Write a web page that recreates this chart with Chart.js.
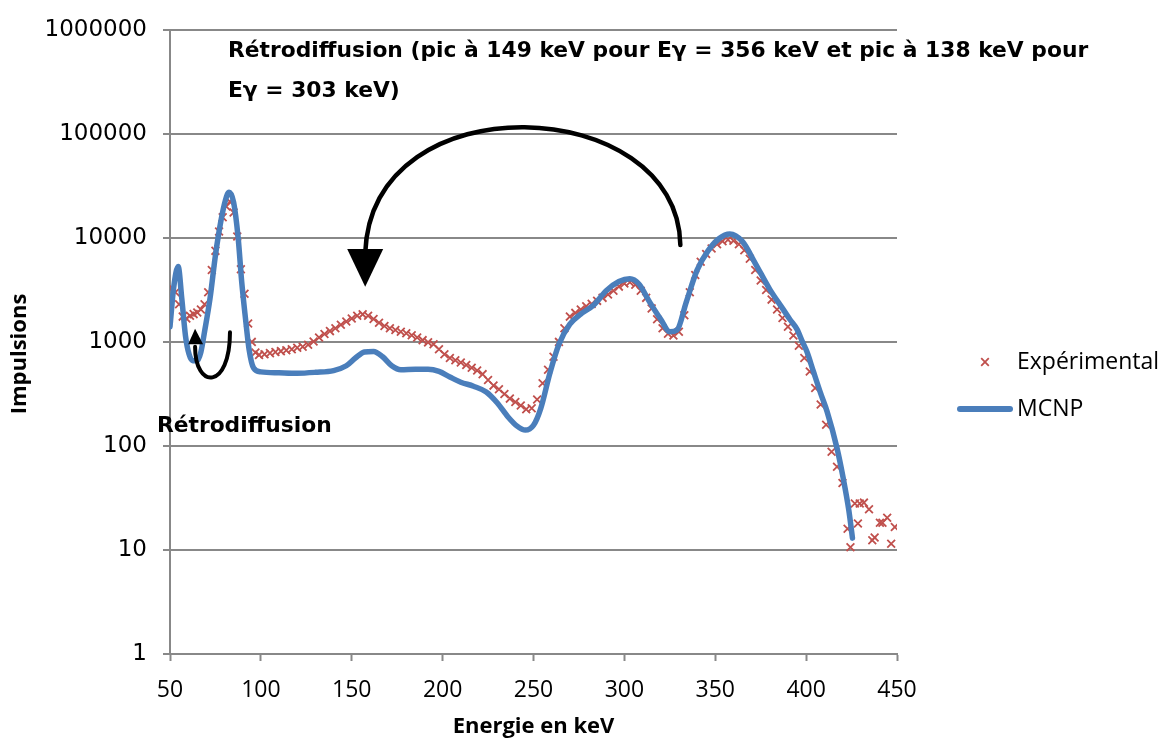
<!DOCTYPE html>
<html lang="fr">
<head>
<meta charset="utf-8">
<title>Spectre gamma : expérience et MCNP</title>
<script src="https://cdn.jsdelivr.net/npm/chart.js@4.4.1/dist/chart.umd.min.js"></script>
<style>
  html, body { margin: 0; padding: 0; background: #fff; }
  #wrap { position: relative; width: 1163px; height: 742px; }
</style>
</head>
<body>
<div id="wrap"><canvas id="spectre"></canvas></div>
<script>
// Mesure (keV, impulsions)
const EXP_E = [
  51, 53, 55, 57, 59, 61, 63, 65, 67, 69, 71, 73, 75, 77, 79, 81, 83, 85, 87, 89, 91, 93, 95, 97, 99,
  102, 105, 108, 111, 114, 117, 120, 123, 126, 129, 132, 135, 138, 141, 144, 147, 150, 153, 156, 159,
  162, 165, 168, 171, 174, 177, 180, 183, 186, 189, 192, 195, 198, 201, 204, 207, 210, 213, 216, 219,
  222, 225, 228, 231, 234, 237, 240, 243, 246, 249, 252, 255, 258, 261, 264, 267, 270, 273, 276, 279,
  282, 285, 288, 291, 294, 297, 300, 303, 306, 309, 312, 315, 318, 321, 324, 327, 330, 333, 336, 339,
  342, 345, 348, 351, 354, 357, 360, 363, 366, 369, 372, 375, 378, 381, 384, 387, 390, 393, 396, 399,
  402, 405, 408, 411, 414, 417, 420, 422.8, 424.4,
  426.8, 428.5, 429.5, 431.8, 434.6, 436.4, 437.7, 440.6, 442, 444.6, 446.8, 448.8
];
const EXP_N = [
  3300, 3000, 2300, 1750, 1680, 1780, 1850, 1920, 2050, 2300, 3000, 4900, 7500, 11500, 15800, 20000, 22300, 17500, 10300, 5000, 2900, 1500, 1000, 790, 750,
  760, 780, 800, 815, 830, 850, 880, 900, 940, 1010, 1100, 1190, 1270, 1350, 1460, 1570, 1680, 1780, 1840, 1780,
  1660, 1530, 1420, 1350, 1300, 1250, 1210, 1160, 1100, 1040, 990, 950, 850, 760, 700, 665, 635, 600, 565, 530,
  490, 430, 380, 350, 315, 285, 265, 245, 225, 230, 280, 400, 540, 720, 1000, 1350, 1750, 1900, 2050, 2200,
  2320, 2480, 2650, 2850, 3100, 3400, 3650, 3750, 3550, 3100, 2650, 2100, 1650, 1350, 1200, 1150, 1250, 1800, 3000, 4400,
  5900, 7000, 7900, 8700, 9300, 9600, 9400, 8700, 7600, 6300, 4900, 3900, 3150, 2550, 2050, 1700, 1400, 1150, 920, 700,
  520, 360, 250, 160, 88, 63, 44, 16, 10.6,
  28, 18, 28, 28.5, 24.6, 12.4, 13.2, 18.3, 18.3, 20.4, 11.5, 16.6
];

// Simulation MCNP
const MCNP_E = [
  50, 52, 54.5, 56.5, 58.5, 60.5, 62.5, 65, 67, 69, 72, 75, 78, 80.5, 82.5, 85, 87.5, 89.5, 91.5, 93.5, 96,
  100, 110, 120, 130, 140, 147, 152, 157, 162, 167, 172, 177, 185, 192, 198, 204, 210, 217, 224, 230, 236,
  241, 245.5, 250, 254, 259, 264, 270, 276, 283, 290, 297, 303, 308, 314, 320, 325, 329, 334, 340, 346,
  352, 358, 365, 372, 380, 387, 391, 395, 398, 400.5, 404, 408, 411.5, 417, 420.5, 423.5, 425.5
];
const MCNP_N = [
  1400, 3300, 5300, 2600, 1150, 760, 660, 660, 800, 1250, 2600, 6800, 14500, 23000, 27500, 22000, 10000, 3700, 1700, 850, 560,
  515, 505, 500, 510, 530, 590, 700, 800, 810, 720, 590, 540, 545, 545, 520, 460, 410, 375, 330, 260, 190,
  155, 142, 158, 230, 500, 950, 1480, 1850, 2250, 3100, 3800, 4050, 3600, 2400, 1650, 1250, 1300, 2400, 4900, 7500,
  9800, 10900, 9200, 5700, 3200, 2100, 1650, 1320, 1000, 800, 520, 320, 215, 95, 48, 24, 13
];

const X_TICKS = [50, 100, 150, 200, 250, 300, 350, 400, 450];
const Y_TICKS = [1, 10, 100, 1000, 10000, 100000, 1000000];

const SERIES_NAMES = ["Expérimental", "MCNP"];
const NOTE_TOP = ["Rétrodiffusion (pic à 149 keV pour Eγ = 356 keV et pic à 138 keV pour", "Eγ = 303 keV)"];
const NOTE_LEFT = "Rétrodiffusion";
const X_TITLE = "Energie en keV";
const Y_TITLE = "Impulsions";

const RED = "#C0504D";
const BLUE = "#4A7EBB";
const GRID = "#888888";

// annotation anchors, in (keV, impulsions)
const BIG_ARROW = { from: [330.8, 8540], c1: [329.7, 241000], c2: [161.2, 335000], to: [157.4, 7160],
                    tip: [157.4, 3390], baseL: [147.5, 7820], baseR: [167.3, 7820] };
const SMALL_ARROW = { from: [83.0, 1236], c1: [83.0, 345], c2: [63.8, 345], to: [63.8, 900],
                      tip: [63.8, 1340], baseL: [60.0, 950], baseR: [68.2, 950] };
const NOTE_TOP_AT = [[81.9, 619000], [81.9, 257000]];
const NOTE_LEFT_AT = [42.8, 153];

function drawArrow(ctx, P, a, width){
  const p = k => P(a[k][0], a[k][1]);
  const f = p("from"), c1 = p("c1"), c2 = p("c2"), t = p("to");
  ctx.lineWidth = width;
  ctx.lineCap = "round";
  ctx.beginPath();
  ctx.moveTo(f[0], f[1]);
  ctx.bezierCurveTo(c1[0], c1[1], c2[0], c2[1], t[0], t[1]);
  ctx.stroke();
  const tip = p("tip"), l = p("baseL"), r = p("baseR");
  ctx.beginPath();
  ctx.moveTo(tip[0], tip[1]); ctx.lineTo(l[0], l[1]); ctx.lineTo(r[0], r[1]);
  ctx.closePath();
  ctx.fill();
}

const overlay = {
  id: "overlay",
  afterDraw(chart){
    const { ctx, chartArea, scales: { x, y } } = chart;
    const P = (e, n) => [x.getPixelForValue(e), y.getPixelForValue(n)];
    ctx.save();

    // arrows
    ctx.strokeStyle = "#000";
    ctx.fillStyle = "#000";
    drawArrow(ctx, P, BIG_ARROW, 4.5);
    drawArrow(ctx, P, SMALL_ARROW, 4);

    // notes
    ctx.font = "bold 21.8px 'DejaVu Sans'";
    ctx.textAlign = "left";
    ctx.textBaseline = "middle";
    NOTE_TOP.forEach((s, i) => {
      const q = P(NOTE_TOP_AT[i][0], NOTE_TOP_AT[i][1]);
      ctx.fillText(s, q[0], q[1]);
    });
    const q = P(NOTE_LEFT_AT[0], NOTE_LEFT_AT[1]);
    ctx.fillText(NOTE_LEFT, q[0], q[1]);

    // axis titles
    ctx.font = "bold 22px 'Open Sans'";
    ctx.textAlign = "center";
    ctx.fillText(X_TITLE, (chartArea.left + chartArea.right) / 2, 727);
    ctx.save();
    ctx.translate(20, 354);
    ctx.rotate(-Math.PI / 2);
    ctx.fillText(Y_TITLE, 0, 0);
    ctx.restore();

    // legend
    const lx = chartArea.right + 88;
    const y1 = 362, y2 = 409;
    ctx.strokeStyle = RED;
    ctx.lineWidth = 1.8;
    ctx.lineCap = "butt";
    ctx.beginPath();
    ctx.moveTo(lx - 3.8, y1 - 3.8); ctx.lineTo(lx + 3.8, y1 + 3.8);
    ctx.moveTo(lx - 3.8, y1 + 3.8); ctx.lineTo(lx + 3.8, y1 - 3.8);
    ctx.stroke();
    ctx.strokeStyle = BLUE;
    ctx.lineWidth = 6;
    ctx.lineCap = "round";
    ctx.beginPath();
    ctx.moveTo(lx - 25, y2); ctx.lineTo(lx + 25, y2);
    ctx.stroke();
    ctx.font = "23px 'Open Sans'";
    ctx.textAlign = "left";
    ctx.fillStyle = "#000";
    ctx.fillText(SERIES_NAMES[0], lx + 32, y1);
    ctx.fillText(SERIES_NAMES[1], lx + 32, y2);

    ctx.restore();
  }
};

const bg = {
  id: "bg",
  beforeDraw(chart){
    const c = chart.ctx;
    c.save(); c.fillStyle = "#fff"; c.fillRect(0, 0, chart.width, chart.height); c.restore();
  }
};

new Chart(document.getElementById("spectre"), {
  type: "scatter",
  data: {
    datasets: [
      {
        label: SERIES_NAMES[1],
        data: MCNP_E.map((e, i) => ({ x: e, y: MCNP_N[i] })),
        showLine: true,
        borderColor: BLUE,
        borderWidth: 5.5,
        pointRadius: 0,
        cubicInterpolationMode: "monotone",
        borderCapStyle: "round",
        borderJoinStyle: "round"
      },
      {
        label: SERIES_NAMES[0],
        data: EXP_E.map((e, i) => ({ x: e, y: EXP_N[i] })),
        showLine: false,
        pointStyle: "crossRot",
        pointRadius: 5.5,
        pointBorderWidth: 1.8,
        borderColor: RED,
        backgroundColor: RED
      }
    ]
  },
  options: {
    responsive: true,
    maintainAspectRatio: false,
    animation: false,
    layout: { padding: { left: 0, right: 266, top: 26, bottom: 0 } },
    plugins: { legend: { display: false }, tooltip: { enabled: false } },
    scales: {
      x: {
        type: "linear",
        min: 50, max: 450,
        afterBuildTicks: s => { s.ticks = X_TICKS.map(v => ({ value: v })); },
        afterFit: s => { s.height = 88; },
        grid: { drawOnChartArea: false, drawTicks: true, tickLength: 7, tickColor: GRID, tickWidth: 2 },
        border: { color: GRID, width: 2 },
        ticks: { color: "#000", padding: 16, font: { family: "'Open Sans'", size: 23 }, maxRotation: 0 }
      },
      y: {
        type: "logarithmic",
        min: 1, max: 1000000,
        afterBuildTicks: s => { s.ticks = Y_TICKS.map(v => ({ value: v })); },
        afterFit: s => { s.width = 170; },
        grid: { color: GRID, lineWidth: 2, drawTicks: true, tickLength: 7, tickColor: GRID, tickWidth: 2 },
        border: { color: GRID, width: 2 },
        ticks: { color: "#000", padding: 16, font: { family: "'DejaVu Sans'", size: 23 },
                 callback: v => String(v) }
      }
    }
  },
  plugins: [bg, overlay]
});
</script>
</body>
</html>
